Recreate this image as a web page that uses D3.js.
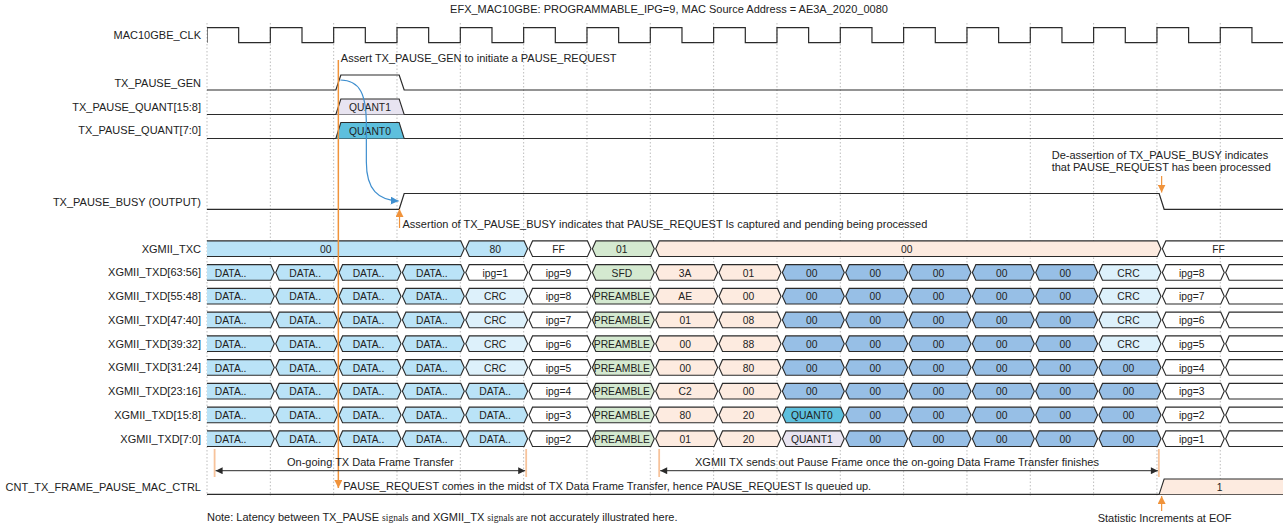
<!DOCTYPE html>
<html>
<head>
<meta charset="utf-8">
<script src="https://cdn.jsdelivr.net/npm/d3@7"></script>
<style>
  body { margin: 0; background: #fff; }
  svg { display: block; font-family: "Liberation Sans", Arial, sans-serif; }
</style>
</head>
<body>
<div id="app"></div>
<script>
// ---- data ----
const nCycles = 17;
const title = 'EFX_MAC10GBE: PROGRAMMABLE_IPG=9, MAC Source Address = AE3A_2020_0080';

// clock level per half cycle
const clkLevels = [1,0,1,0,1,0,1,0,1,0,1,0,1,0,1,0,1,0,1,0,1,0,1,0,1,0,1,0,1,0,1,0,1,0];

const pauseGen = [0,0,1,0,0,0,0,0,0,0,0,0,0,0,0,0,0];
const pauseQuantHi = ['','','QUANT1','','','','','','','','','','','','','',''];
const pauseQuantLo = ['','','QUANT0','','','','','','','','','','','','','',''];
const pauseBusy = [0,0,0,1,1,1,1,1,1,1,1,1,1,1,1,0,0];

const txcValues = ['00','80','FF','01','00','FF'];
const txcLengths = [4,1,1,1,8,2];

const txdLabels = ['XGMII_TXD[63:56]','XGMII_TXD[55:48]','XGMII_TXD[47:40]','XGMII_TXD[39:32]',
  'XGMII_TXD[31:24]','XGMII_TXD[23:16]','XGMII_TXD[15:8]','XGMII_TXD[7:0]'];
const txd63 = ['DATA..','DATA..','DATA..','DATA..','ipg=1','ipg=9','SFD','3A','01','00','00','00','00','00','CRC','ipg=8',''];
const txd55 = ['DATA..','DATA..','DATA..','DATA..','CRC','ipg=8','PREAMBLE','AE','00','00','00','00','00','00','CRC','ipg=7',''];
const txd47 = ['DATA..','DATA..','DATA..','DATA..','CRC','ipg=7','PREAMBLE','01','08','00','00','00','00','00','CRC','ipg=6',''];
const txd39 = ['DATA..','DATA..','DATA..','DATA..','CRC','ipg=6','PREAMBLE','00','88','00','00','00','00','00','CRC','ipg=5',''];
const txd31 = ['DATA..','DATA..','DATA..','DATA..','CRC','ipg=5','PREAMBLE','00','80','00','00','00','00','00','00','ipg=4',''];
const txd23 = ['DATA..','DATA..','DATA..','DATA..','DATA..','ipg=4','PREAMBLE','C2','00','00','00','00','00','00','00','ipg=3',''];
const txd15 = ['DATA..','DATA..','DATA..','DATA..','DATA..','ipg=3','PREAMBLE','80','20','QUANT0','00','00','00','00','00','ipg=2',''];
const txd7  = ['DATA..','DATA..','DATA..','DATA..','DATA..','ipg=2','PREAMBLE','01','20','QUANT1','00','00','00','00','00','ipg=1',''];
const txdRows = [txd63, txd55, txd47, txd39, txd31, txd23, txd15, txd7];

const cntFrame = ['','','','','','','','','','','','','','','','1','1'];

// ---- layout ----
const width = 1283, height = 527;
const x0 = 207, period = 63.33;
const lag = 0.074;          // data transitions lag the clock edge (cycles)
const labelX = 201;
const orange = '#f0933b', lightOrange = '#f7c39b', ink = '#2b2b2b';

const x = d3.scaleLinear().domain([0, nCycles]).range([x0, x0 + nCycles * period]);
const tx = k => x(k + lag);   // transition position of cycle k

const svg = d3.create('svg').attr('width', width).attr('height', height);

const defs = svg.append('defs');
defs.append('clipPath').attr('id', 'plot')
  .append('rect').attr('x', x0).attr('y', 0).attr('width', width - x0).attr('height', height);
function marker(id, color, w, h) {
  defs.append('marker').attr('id', id)
    .attr('viewBox', '0 0 10 10').attr('refX', 10).attr('refY', 5)
    .attr('markerWidth', w).attr('markerHeight', h).attr('markerUnits', 'userSpaceOnUse')
    .attr('orient', 'auto-start-reverse')
    .append('path').attr('d', 'M0,0 L10,5 L0,10 z').attr('fill', color);
}
marker('arrOrange', orange, 8, 8);
marker('arrBlue', '#3f8fcf', 8, 8);
marker('arrBlack', ink, 8, 7);

// grid (clock rising edges)
svg.append('g').selectAll('line').data(d3.range(0, nCycles))
  .join('line')
  .attr('x1', d => x(d)).attr('x2', d => x(d))
  .attr('y1', 23).attr('y2', 496)
  .attr('stroke', '#bdbdbd').attr('stroke-dasharray', '1.5,2');

// title
svg.append('text').attr('x', 669).attr('y', 9).attr('dy', '0.35em')
  .attr('text-anchor', 'middle').attr('font-size', 11).attr('fill', '#222').text(title);

function label(txt, y) {
  svg.append('text').attr('x', labelX).attr('y', y).attr('dy', '0.35em')
    .attr('text-anchor', 'end').attr('font-size', 11).attr('fill', '#222').text(txt);
}

const plot = svg.append('g').attr('clip-path', 'url(#plot)');

// ---- clock ----
{
  const hi = 27.7, lo = 42.7;
  const p = d3.path();
  p.moveTo(x(0), lo);
  clkLevels.forEach((lv, i) => {
    const xs = x(i / 2);
    p.lineTo(xs, lv ? hi : lo);
    p.lineTo(x((i + 1) / 2), lv ? hi : lo);
  });
  plot.append('path').attr('d', p.toString()).attr('fill', 'none').attr('stroke', ink).attr('stroke-width', 1.2);
  label('MAC10GBE_CLK', 35);
}

// ---- single bit waveform ----
function bitWave(levels, hi, lo, name, ly) {
  const s = 2.5;
  const y = v => (v ? hi : lo);
  const p = d3.path();
  p.moveTo(x(0), y(levels[0]));
  for (let k = 1; k < levels.length; k++) {
    if (levels[k] !== levels[k - 1]) {
      p.lineTo(tx(k) - s, y(levels[k - 1]));
      p.lineTo(tx(k) + s, y(levels[k]));
    }
  }
  p.lineTo(x(nCycles) + 5, y(levels[levels.length - 1]));
  plot.append('path').attr('d', p.toString()).attr('fill', 'none').attr('stroke', ink).attr('stroke-width', 1.2);
  label(name, ly);
}

// runs of equal non-empty values
function runs(vals) {
  const out = [];
  vals.forEach((v, k) => {
    if (!v) return;
    const last = out[out.length - 1];
    if (last && last.v === v && last.b === k) last.b = k + 1;
    else out.push({ v, a: k, b: k + 1 });
  });
  return out;
}

// pulse-style bus: trapezoids rising from a baseline
function pulseBus(vals, top, base, fill, name, ly, textX) {
  const s = 2.5;
  plot.append('line').attr('x1', x(0)).attr('x2', width).attr('y1', base).attr('y2', base)
    .attr('stroke', ink).attr('stroke-width', 1.2);
  runs(vals).forEach(r => {
    const xa = tx(r.a), xb = r.b >= nCycles ? width + 10 : tx(r.b);
    plot.append('path')
      .attr('d', `M${xa - s},${base} L${xa + s},${top} L${xb - s},${top} L${xb + s},${base}`)
      .attr('fill', fill(r.v)).attr('stroke', ink).attr('stroke-width', 1.1);
    plot.append('text').attr('x', textX ? textX(r) : (xa + xb) / 2).attr('y', (top + base) / 2 + 0.5).attr('dy', '0.35em')
      .attr('text-anchor', 'middle').attr('font-size', 10.3).attr('fill', '#222').text(r.v);
  });
  label(name, ly);
}

// hexagon bus row
function busRow(segs, cy, fill, name) {
  const h = 7.8, s = 3.5, g = 0.7;
  segs.forEach(sg => {
    const xa = sg.a < 0 ? x0 - 17 : tx(sg.a) + g;
    const xb = sg.b >= nCycles ? width + 20 : tx(sg.b) - g;
    plot.append('path')
      .attr('d', `M${xa},${cy} L${xa + s},${cy - h} L${xb - s},${cy - h} L${xb},${cy} L${xb - s},${cy + h} L${xa + s},${cy + h} Z`)
      .attr('fill', fill(sg.v, sg.a)).attr('stroke', ink).attr('stroke-width', 1.1);
    const tb = sg.b >= nCycles ? x(nCycles) - 6 : xb;
    svg.append('text').attr('x', (xa + tb) / 2 - 1.5).attr('y', cy + 0.5).attr('dy', '0.35em')
      .attr('text-anchor', 'middle').attr('font-size', 10.3).attr('fill', '#222').text(sg.v);
  });
  label(name, cy);
}

const colors = {
  data: '#bae3f7', crc: '#ddf1fb', white: '#ffffff', green: '#d4e9d0',
  peach: '#fdebe0', blue: '#97bfe6', quant0: '#5dbfdd', quant1: '#e8e4f1'
};
function txdFill(v, k) {
  if (v === 'DATA..') return colors.data;
  if (v === 'CRC') return colors.crc;
  if (v === '' || v.startsWith('ipg')) return colors.white;
  if (v === 'SFD' || v === 'PREAMBLE') return colors.green;
  if (v === 'QUANT0') return colors.quant0;
  if (v === 'QUANT1') return colors.quant1;
  return k < 9 ? colors.peach : colors.blue;
}
function txcFill(v, k) {
  if (k < 5) return colors.data;
  if (v === 'FF') return colors.white;
  if (k === 6) return colors.green;
  return colors.peach;
}

// ---- upper signals ----
bitWave(pauseGen, 75, 90, 'TX_PAUSE_GEN', 83);
pulseBus(pauseQuantHi, 99, 114.5, () => colors.quant1, 'TX_PAUSE_QUANT[15:8]', 107);
pulseBus(pauseQuantLo, 122.5, 138.5, () => colors.quant0, 'TX_PAUSE_QUANT[7:0]', 130.5);
bitWave(pauseBusy, 193.5, 209.3, 'TX_PAUSE_BUSY (OUTPUT)', 202);

// ---- XGMII ----
const rowY0 = 248.7, rowStep = 23.75;
{
  let k = 0;
  const segs = txcValues.map((v, i) => {
    const sg = { v, a: k === 0 ? -1 : k, b: k + txcLengths[i] };
    k += txcLengths[i];
    return sg;
  });
  busRow(segs, rowY0, (v, a) => txcFill(v, a < 0 ? 0 : a), 'XGMII_TXC');
}
txdRows.forEach((row, r) => {
  const segs = row.map((v, k) => ({ v, a: k === 0 ? -1 : k, b: k + 1 }));
  busRow(segs, rowY0 + rowStep * (r + 1), (v, a) => txdFill(v, a < 0 ? 0 : a), txdLabels[r]);
});

// ---- counter ----
pulseBus(cntFrame, 479, 494.3, () => colors.peach, 'CNT_TX_FRAME_PAUSE_MAC_CTRL', 487.3,
  r => (tx(r.a) + x(nCycles)) / 2 - 3);

// ---- annotations ----
function note(txt, xp, y, anchor) {
  return svg.append('text').attr('x', xp).attr('y', y).attr('dy', '0.35em')
    .attr('text-anchor', anchor || 'start').attr('font-size', 11).attr('fill', '#222').text(txt);
}
function arrow(x1, y1, x2, y2, color, mk, w) {
  svg.append('line').attr('x1', x1).attr('y1', y1).attr('x2', x2).attr('y2', y2)
    .attr('stroke', color).attr('stroke-width', w || 1.2).attr('marker-end', mk ? `url(#${mk})` : null);
}

// blue cause/effect curve
svg.append('path')
  .attr('d', `M${tx(2) + 2},80 C${tx(2) + 22},80 ${tx(2) + 28},95 ${tx(2) + 28},125 L${tx(2) + 28},162 C${tx(2) + 28},190 ${tx(2) + 40},200 ${tx(3) - 3},201`)
  .attr('fill', 'none').attr('stroke', '#3f8fcf').attr('stroke-width', 1.2).attr('marker-end', 'url(#arrBlue)');

// pause request line
arrow(tx(2), 60, tx(2), 488, orange, 'arrOrange', 1.5);
note('Assert TX_PAUSE_GEN to initiate a PAUSE_REQUEST', tx(2) + 2.5, 58.3);

arrow(x(3.04), 228, x(3.04), 209, orange, 'arrOrange', 1.2);
note('Assertion of TX_PAUSE_BUSY indicates that PAUSE_REQUEST Is captured and pending being processed', x(3.04) + 3, 224);

arrow(tx(15), 176, tx(15), 192.5, orange, 'arrOrange', 1.2);
note('De-assertion of TX_PAUSE_BUSY indicates', 1051.7, 155);
note('that PAUSE_REQUEST has been processed', 1051.7, 167.3);

// frame transfer spans
const spans = [[0.12, 5.04], [7.14, 15.03]];
spans.forEach(([a, b]) => {
  [a, b].forEach(t => {
    svg.append('line').attr('x1', x(t)).attr('x2', x(t)).attr('y1', 449).attr('y2', 477)
      .attr('stroke', lightOrange).attr('stroke-width', 1.8);
  });
  svg.append('line').attr('x1', x(a) + 1).attr('x2', x(b) - 1).attr('y1', 470.7).attr('y2', 470.7)
    .attr('stroke', ink).attr('stroke-width', 1)
    .attr('marker-start', 'url(#arrBlack)').attr('marker-end', 'url(#arrBlack)');
});
note('On-going TX Data Frame Transfer', (x(spans[0][0]) + x(spans[0][1])) / 2, 462.3, 'middle');
note('XGMII TX sends out Pause Frame once the on-going Data Frame Transfer finishes', 695, 462.3);

note('PAUSE_REQUEST comes in the midst of TX Data Frame Transfer, hence PAUSE_REQUEST Is queued up.', tx(2) + 5, 486.3);

arrow(tx(15), 511, tx(15), 496, orange, 'arrOrange', 1.2);
note('Statistic Increments at EOF', tx(15) + 3, 518.3, 'middle');

// footnote with mixed fonts
{
  const t = svg.append('text').attr('x', x0).attr('y', 516.7).attr('dy', '0.35em')
    .attr('font-size', 11).attr('fill', '#222');
  const parts = [
    ['Note: Latency between TX_PAUSE ', false], ['signals', true], [' and XGMII_TX ', false],
    ['signals are', true], [' not accurately illustrated here.', false]
  ];
  parts.forEach(([s, serif]) => {
    const sp = t.append('tspan').text(s);
    if (serif) sp.attr('font-family', '"Liberation Serif", "Times New Roman", serif').attr('font-size', 9.5);
  });
}

document.getElementById('app').appendChild(svg.node());
</script>
</body>
</html>
